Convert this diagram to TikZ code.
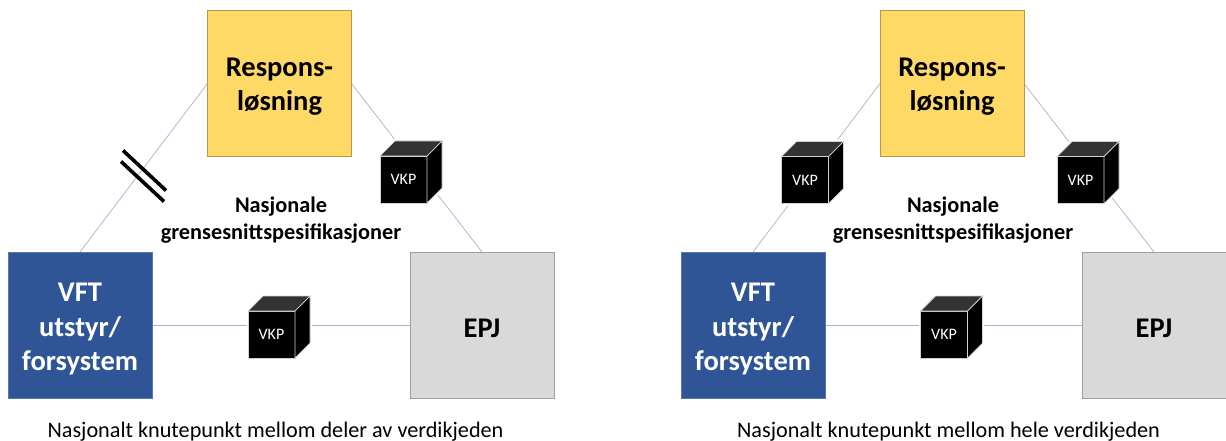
\documentclass[tikz,border=0pt]{standalone}
\usepackage{fontspec}
\setmainfont{Carlito}
\usepackage{tikz}
\usetikzlibrary{positioning}
\usetikzlibrary{backgrounds}
\tikzset{>=latex}
\newcommand{\boxlift}{\rule{0pt}{25pt}}

\begin{document}
\begin{tikzpicture}[
            x=1pt, y=-1pt,
            box/.style={rectangle, draw=gray!70, line width=0.8pt, minimum width=144pt, minimum height=146pt, inner sep=0pt, outer sep=0pt, align=center, font=\bfseries\fontsize{28.5}{34.5}\selectfont},
            response/.style={box, fill=respyellow, text=black, draw=respyellow!70!black},
            vft/.style={box, fill=vftblue, text=white, draw=vftblue!80!white},
            epj/.style={box, fill=epjgray, text=black, draw=gray!75, line width=1pt},
            vkp/.style={rectangle, draw=gray!35, line width=0.7pt, fill=black, text=white, minimum width=47pt, minimum height=47pt, inner sep=0pt, outer sep=0pt, font=\fontsize{16}{18}\selectfont},
            vkpdepth/.style={draw=gray!35, line width=0.7pt, fill=black},
            vkptop/.style={draw=gray!35, line width=0.7pt, fill=black!80},
            vkpgap/.style={draw=white, fill=white, line width=3.5pt},
            link/.style={draw=linkblue, line width=0.7pt},
            gap/.style={draw=black, line width=3.6pt},
            note/.style={align=center, font=\bfseries\fontsize{22.3}{27}\selectfont},
            caption/.style={font=\fontsize{22.2}{26}\selectfont}
        ]
        \definecolor{respyellow}{HTML}{FFD966}
        \definecolor{vftblue}{HTML}{2F5597}
        \definecolor{epjgray}{HTML}{D9D9D9}
        \definecolor{linkblue}{HTML}{A9AECB}
        \useasboundingbox (0,0) rectangle (1226,441);
        % left triangle
        \node[response] (respleft) at (279.5,83.5) {\boxlift\\[-35pt]Respons-\\løsning};
        \node[vft, below left = 95.5pt and 55.5pt of respleft] (vftleft) {\boxlift\\[-33pt]VFT\\utstyr/\\forsystem};
        \node[epj, below right = 95.5pt and 58.5pt of respleft] (epjleft) {\boxlift EPJ};
        \node[vkp] (vkprightleft) at (403.5,179.5) {VKP};
        \node[vkp] (vkpbottomleft) at (271.5,334.5) {VKP};
        \coordinate (cutleft) at (143.5,170.5);
        \draw[gap] ([shift={(-20.5,-20)}]cutleft) -- ([shift={(22.5,20)}]cutleft);
        \draw[gap] ([shift={(-22.5,-9)}]cutleft) -- ([shift={(20.5,31)}]cutleft);
        \node[note] (noteleft) at (281,220.5) {Nasjonale\\grensesnittspesifikasjoner};
        \node[caption] (captionleft) at (275.5,432) {Nasjonalt knutepunkt mellom deler av verdikjeden};
        % right triangle
        \node[response] (respright) at (952,83.5) {\boxlift\\[-35pt]Respons-\\løsning};
        \node[vft, below left = 95.5pt and 55pt of respright] (vftright) {\boxlift\\[-33pt]VFT\\utstyr/\\forsystem};
        \node[epj, below right = 95.5pt and 58pt of respright] (epjright) {\boxlift EPJ};
        \node[vkp] (vkpleftright) at (805,180) {VKP};
        \node[vkp] (vkprightright) at (1080.5,180) {VKP};
        \node[vkp] (vkpbottomright) at (944,334.5) {VKP};
        \node[note] (noteright) at (953,220.5) {Nasjonale\\grensesnittspesifikasjoner};
        \node[caption] (captionright) at (948.5,432) {Nasjonalt knutepunkt mellom hele verdikjeden};
        % connectors
        \begin{scope}[on background layer]
            \draw[link] (vftleft.north) -- (respleft.west);
            \draw[link] (respleft.east) -- (epjleft.north);
            \draw[link] (vftleft.east) -- (epjleft.west);
            \draw[link] (vftright.north) -- (respright.west);
            \draw[link] (respright.east) -- (epjright.north);
            \draw[link] (vftright.east) -- (epjright.west);
        \end{scope}
        % cube sides
        \foreach \cube in {vkprightleft, vkpbottomleft, vkpleftright, vkprightright, vkpbottomright} {
            \begin{scope}[on background layer]
                \draw[vkpgap] (\cube.north west) -- ++(15,-15) -- ++(47,0) -- ++(0,47) -- (\cube.south east) -- (\cube.south west) -- cycle;
            \end{scope}
            \draw[vkptop] (\cube.north west) -- ++(15,-15) -- ++(47,0) -- (\cube.north east) -- cycle;
            \draw[vkpdepth] (\cube.north east) -- ++(15,-15) -- ++(0,47) -- (\cube.south east) -- cycle;
        }
        \end{tikzpicture}
\end{document}
